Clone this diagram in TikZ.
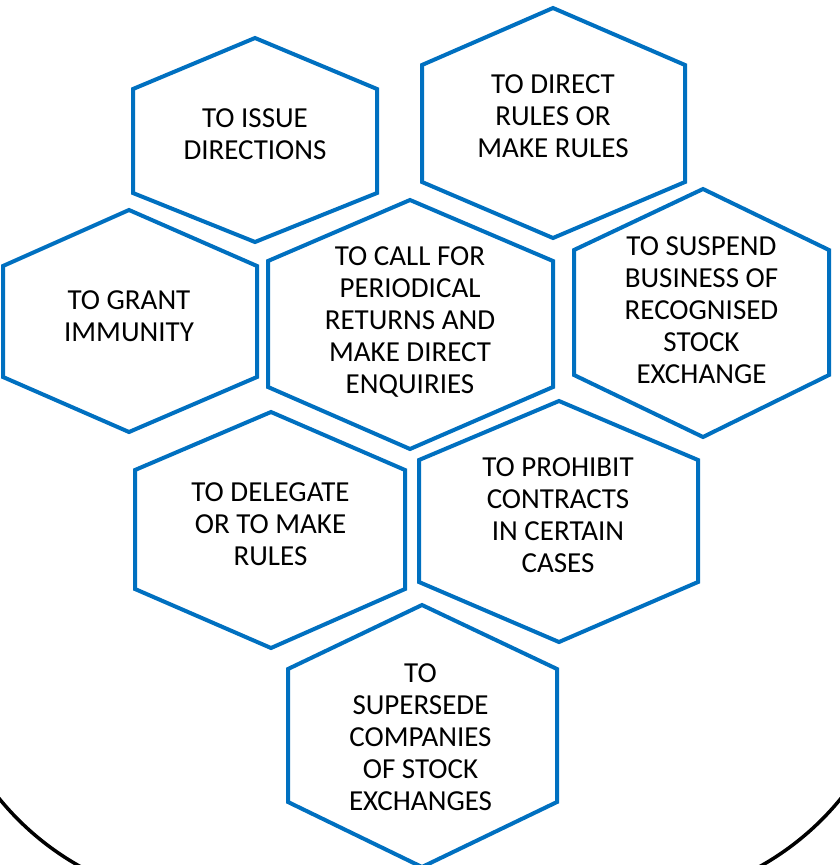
\documentclass[tikz,border=0pt]{standalone}
\usepackage{fontspec}
\setmainfont{Carlito}
\definecolor{hexblue}{RGB}{0,112,192}
\tikzset{
  hexline/.style={draw=hexblue, line width=4pt, line join=miter, fill=white},
  framebox/.style={draw=black, line width=3.5pt},
  hextext/.style={align=center, text=black, font=\fontsize{29}{32}\selectfont, inner sep=0pt}
}
% \myhexagon{cx}{top}{bottom}{left}{right}{upper side y}{lower side y}
\newcommand{\myhexagon}[7]{%
  \draw[hexline] (#1,#2) -- (#5,#6) -- (#5,#7) -- (#1,#3) -- (#4,#7) -- (#4,#6) -- cycle;}
\begin{document}
\begin{tikzpicture}[x=1pt,y=-1pt]
\useasboundingbox (0,0) rectangle (840,865);
\clip (0,0) rectangle (840,865);
\fill[white] (0,0) rectangle (840,865);
% outer frame (only its lower corners are visible)
\draw[framebox, rounded corners=281pt] (-64,-400) rectangle (904,902);
% hexagons
\myhexagon{255}{38}{242}{133}{377}{89}{193}
\myhexagon{553}{8}{238}{422}{685}{65}{182}
\myhexagon{129}{210}{432}{3}{257}{266}{377}
\myhexagon{410}{200}{449}{268}{553}{261}{387}
\myhexagon{703}{189}{437}{574}{829}{250}{375}
\myhexagon{271}{412}{648}{135}{405}{470}{589}
\myhexagon{559}{401}{642}{419}{698}{460}{582}
\myhexagon{422}{605}{867}{288}{557}{669}{802}
% texts
\node[hextext] (issue) at (255,134.5) {TO ISSUE\\DIRECTIONS};
\node[hextext] (direct) at (553,116.5) {TO DIRECT\\RULES OR\\MAKE RULES};
\node[hextext] (grant) at (129,316) {TO GRANT\\IMMUNITY};
\node[hextext] (call) at (410,322) {TO CALL FOR\\PERIODICAL\\RETURNS AND\\MAKE DIRECT\\ENQUIRIES};
\node[hextext] (suspend) at (701.5,310.5) {TO SUSPEND\\BUSINESS OF\\RECOGNISED\\STOCK\\EXCHANGE};
\node[hextext] (delegate) at (270.5,524) {TO DELEGATE\\OR TO MAKE\\RULES};
\node[hextext] (prohibit) at (558,515) {TO PROHIBIT\\CONTRACTS\\IN CERTAIN\\CASES};
\node[hextext] (supersede) at (420.5,737) {TO\\SUPERSEDE\\COMPANIES\\OF STOCK\\EXCHANGES};
\end{tikzpicture}
\end{document}
